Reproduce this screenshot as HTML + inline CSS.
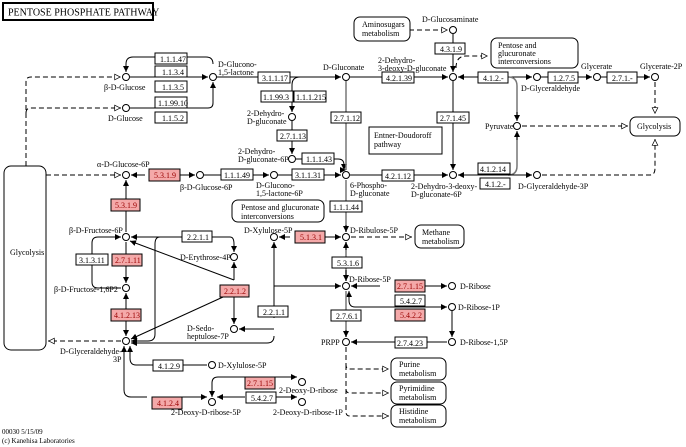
<!DOCTYPE html>
<html><head><meta charset="utf-8"><style>
html,body{margin:0;padding:0;background:#fff}
svg{display:block}
text{font-family:"Liberation Serif",serif;font-size:8px;fill:#000}
.e rect{fill:#fff;stroke:#000;stroke-width:1}
.r rect{fill:#f4a9a9;stroke:#000;stroke-width:1}
.r text{fill:#900}
.c{fill:#fff;stroke:#000;stroke-width:1}
.l{stroke:#000;stroke-width:1;fill:none}
.g{stroke:#777;stroke-width:1.5;fill:none}
.d{stroke:#000;stroke-width:1;fill:none;stroke-dasharray:5,3}
.m{fill:#fff;stroke:#000;stroke-width:1}
</style></head><body>
<svg width="686" height="447" viewBox="0 0 686 447" xmlns="http://www.w3.org/2000/svg">
<defs>
<marker id="a" viewBox="0 0 10 10" refX="10" refY="5" markerWidth="6" markerHeight="6" orient="auto"><path d="M0,0L10,5L0,10z" fill="#000"/></marker>
<marker id="o" viewBox="0 0 10 10" refX="10" refY="5" markerWidth="7" markerHeight="7" orient="auto"><path d="M1,1L9,5L1,9z" fill="#fff" stroke="#000"/></marker>
</defs>
<rect x="3" y="3" width="150" height="17" fill="#fff" stroke="#000" stroke-width="2"/>
<text x="8" y="15.5" style="font-size:10px">PENTOSE PHOSPHATE PATHWAY</text>

<!-- dashed lines -->
<path class="d" d="M26,166V82Q26,77 31,77H121" marker-end="url(#o)"/>
<path class="d" d="M26,113Q26,108 31,108H121" marker-end="url(#o)"/>
<path class="d" d="M46,175H121" marker-end="url(#o)"/>
<path class="d" d="M121,341H48" marker-end="url(#o)"/>
<path class="d" d="M409,30H448" marker-end="url(#o)"/>
<path class="d" d="M456,68Q456,56 466,56H488" marker-end="url(#o)"/>
<path class="d" d="M522,126H628" marker-end="url(#o)"/>
<path class="d" d="M655,82V114" marker-end="url(#o)"/>
<path class="d" d="M542,175H650Q655,175 655,168V139" marker-end="url(#o)"/>
<path class="d" d="M351,237H412" marker-end="url(#o)"/>
<path class="d" d="M346,347V365Q346,369 350,369H389" marker-end="url(#o)"/>
<path class="d" d="M346,365V389Q346,393 350,393H389" marker-end="url(#o)"/>
<path class="d" d="M346,389V412Q346,416 350,416H389" marker-end="url(#o)"/>

<!-- solid lines -->
<path class="l" d="M130,77H208" marker-end="url(#a)"/>
<path class="l" d="M130,108H208Q213,108 213,103V82" marker-end="url(#a)"/>
<path class="l" d="M213,64Q213,57 206,57H133Q126,57 126,64V72" marker-end="url(#a)"/>
<path class="l" d="M217,77H341" marker-end="url(#a)"/>
<path class="l" d="M300,77Q292,77 292,85V112" marker-end="url(#a)"/>
<path class="l" d="M292,121V154" marker-end="url(#a)"/>
<path class="l" d="M296,159H338Q344,159 344,165V170" marker-end="url(#a)"/>
<path class="g" d="M346,81V170"/>
<path class="l" d="M346,170V170" marker-end="url(#a)"/>
<path class="l" d="M350,77H448" marker-end="url(#a)"/>
<path class="l" d="M453,34V72" marker-end="url(#a)"/>
<path class="l" d="M453,81V170" marker-end="url(#a)"/>
<path class="l" d="M350,175H448" marker-end="url(#a)"/>
<path class="l" d="M508,77H458" marker-end="url(#a)"/>
<path class="l" d="M508,77H532" marker-end="url(#a)"/>
<path class="g" d="M508,77Q517,77 517,86V119"/>
<path class="l" d="M517,112V121" marker-end="url(#a)"/>
<path class="g" d="M508,175Q517,175 517,166V134"/>
<path class="l" d="M517,140V131" marker-end="url(#a)"/>
<path class="l" d="M508,175H458" marker-end="url(#a)"/>
<path class="l" d="M508,175H532" marker-end="url(#a)"/>
<path class="l" d="M541,77H592" marker-end="url(#a)"/>
<path class="l" d="M601,77H650" marker-end="url(#a)"/>
<path class="l" d="M145,175H131" marker-end="url(#a)"/>
<path class="l" d="M180,175H195" marker-end="url(#a)"/>
<path class="l" d="M204,175H269" marker-end="url(#a)"/>
<path class="l" d="M278,175H341" marker-end="url(#a)"/>
<path class="l" d="M126,232V180" marker-end="url(#a)"/>
<path class="g" d="M346,180V232"/>
<path class="l" d="M346,225V232" marker-end="url(#a)"/>
<path class="l" d="M290,237H279" marker-end="url(#a)"/>
<path class="l" d="M325,237H341" marker-end="url(#a)"/>
<path class="l" d="M230,237H131" marker-end="url(#a)"/>
<path class="l" d="M230,237Q234,237 234,244V252" marker-end="url(#a)"/>
<path class="l" d="M126,242V283" marker-end="url(#a)"/>
<path class="l" d="M121,288H98Q92,288 92,282V243Q92,237 98,237H121" marker-end="url(#a)"/>
<path class="l" d="M160,237Q155,237 155,244V334Q155,341 148,341H131" marker-end="url(#a)"/>
<path class="l" d="M126,320V293" marker-end="url(#a)"/>
<path class="l" d="M126,320V336" marker-end="url(#a)"/>
<path class="l" d="M234,280V262" marker-end="url(#a)"/>
<path class="l" d="M234,296V324" marker-end="url(#a)"/>
<path class="l" d="M234,280L130,241" marker-end="url(#a)"/>
<path class="l" d="M234,292L131,339" marker-end="url(#a)"/>
<path class="l" d="M274,318V242" marker-end="url(#a)"/>
<path class="l" d="M274,329H239" marker-end="url(#a)"/>
<path class="l" d="M274,336Q274,343 267,343H131" marker-end="url(#a)"/>
<path class="l" d="M274,286Q274,286 280,286H341" marker-end="url(#a)"/>
<path class="g" d="M346,242V281"/>
<path class="l" d="M346,250V242" marker-end="url(#a)"/>
<path class="l" d="M346,270V281" marker-end="url(#a)"/>
<path class="l" d="M380,286H351" marker-end="url(#a)"/>
<path class="l" d="M420,286H447" marker-end="url(#a)"/>
<path class="l" d="M447,307H355Q349,307 349,300V291" marker-end="url(#a)"/>
<path class="l" d="M420,307H447" marker-end="url(#a)"/>
<path class="l" d="M452,311V337" marker-end="url(#a)"/>
<path class="g" d="M346,291V337"/>
<path class="l" d="M346,330V337" marker-end="url(#a)"/>
<path class="l" d="M447,342H351" marker-end="url(#a)"/>
<path class="l" d="M207,365H136Q130,365 130,358V346" marker-end="url(#a)"/>
<path class="l" d="M147,397H131Q124,397 124,390V346" marker-end="url(#a)"/>
<path class="l" d="M167,397H207" marker-end="url(#a)"/>
<path class="l" d="M245,377H218Q212,377 212,383V397" marker-end="url(#a)"/>
<path class="l" d="M262,377H297" marker-end="url(#a)"/>
<path class="l" d="M245,397H217" marker-end="url(#a)"/>
<path class="l" d="M262,397H297" marker-end="url(#a)"/>

<!-- map boxes -->
<rect class="m" x="4" y="166" width="42" height="184" rx="7"/>
<text x="10" y="255">Glycolysis</text>
<rect class="m" x="630" y="117" width="50" height="19" rx="6"/>
<text x="637" y="129">Glycolysis</text>
<rect class="m" x="354" y="17" width="56" height="24" rx="6"/>
<text x="362" y="27">Aminosugars</text><text x="362" y="36">metabolism</text>
<rect class="m" x="491" y="38" width="87" height="30" rx="6"/>
<text x="498" y="48">Pentose and</text><text x="498" y="56">glucuronate</text><text x="498" y="64">interconversions</text>
<rect x="369" y="127" width="73" height="27" fill="#fff" stroke="#000"/>
<text x="374" y="138">Entner-Doudoroff</text><text x="374" y="147">pathway</text>
<rect class="m" x="232" y="200" width="92" height="22" rx="6"/>
<text x="241" y="210">Pentose and glucuronate</text><text x="241" y="219">interconversions</text>
<rect class="m" x="415" y="225" width="49" height="23" rx="6"/>
<text x="422" y="235">Methane</text><text x="422" y="244">metabolism</text>
<rect class="m" x="391" y="358" width="55" height="22" rx="6"/>
<text x="399" y="367">Purine</text><text x="399" y="376">metabolism</text>
<rect class="m" x="391" y="382" width="55" height="22" rx="6"/>
<text x="399" y="391">Pyrimidine</text><text x="399" y="400">metabolism</text>
<rect class="m" x="391" y="405" width="55" height="22" rx="6"/>
<text x="399" y="414">Histidine</text><text x="399" y="423">metabolism</text>

<!-- enzymes -->
<g class="e">
<rect x="155" y="53" width="32" height="11"/><text x="160" y="62">1.1.1.47</text>
<rect x="155" y="66" width="32" height="11"/><text x="162" y="75">1.1.3.4</text>
<rect x="155" y="81" width="32" height="11"/><text x="162" y="90">1.1.3.5</text>
<rect x="155" y="97" width="32" height="11"/><text x="158" y="106">1.1.99.10</text>
<rect x="155" y="112" width="32" height="11"/><text x="162" y="121">1.1.5.2</text>
<rect x="258" y="72" width="32" height="11"/><text x="262" y="81">3.1.1.17</text>
<rect x="261" y="91" width="32" height="11"/><text x="263" y="100">1.1.99.3</text>
<rect x="294" y="91" width="32" height="11"/><text x="296" y="100">1.1.1.215</text>
<rect x="277" y="130" width="30" height="11"/><text x="280" y="139">2.7.1.13</text>
<rect x="302" y="153" width="32" height="11"/><text x="306" y="162">1.1.1.43</text>
<rect x="331" y="112" width="30" height="11"/><text x="334" y="121">2.7.1.12</text>
<rect x="382" y="72" width="32" height="11"/><text x="386" y="81">4.2.1.39</text>
<rect x="435" y="43" width="30" height="11"/><text x="440" y="52">4.3.1.9</text>
<rect x="437" y="112" width="32" height="11"/><text x="440" y="121">2.7.1.45</text>
<rect x="478" y="72" width="30" height="11"/><text x="483" y="81">4.1.2.-</text>
<rect x="548" y="72" width="30" height="11"/><text x="553" y="81">1.2.7.5</text>
<rect x="607" y="72" width="30" height="11"/><text x="612" y="81">2.7.1.-</text>
<rect x="478" y="163" width="32" height="11"/><text x="480" y="172">4.1.2.14</text>
<rect x="480" y="178" width="30" height="11"/><text x="485" y="187">4.1.2.-</text>
<rect x="382" y="170" width="32" height="11"/><text x="385" y="179">4.2.1.12</text>
<rect x="330" y="201" width="32" height="11"/><text x="333" y="210">1.1.1.44</text>
<rect x="221" y="169" width="32" height="11"/><text x="224" y="178">1.1.1.49</text>
<rect x="292" y="169" width="32" height="11"/><text x="295" y="178">3.1.1.31</text>
<rect x="182" y="231" width="30" height="11"/><text x="187" y="240">2.2.1.1</text>
<rect x="76" y="254" width="32" height="11"/><text x="79" y="263">3.1.3.11</text>
<rect x="258" y="306" width="30" height="11"/><text x="263" y="315">2.2.1.1</text>
<rect x="332" y="257" width="30" height="11"/><text x="337" y="266">5.3.1.6</text>
<rect x="395" y="295" width="30" height="11"/><text x="400" y="304">5.4.2.7</text>
<rect x="331" y="310" width="30" height="11"/><text x="336" y="319">2.7.6.1</text>
<rect x="395" y="337" width="32" height="11"/><text x="397" y="346">2.7.4.23</text>
<rect x="153" y="360" width="30" height="11"/><text x="158" y="369">4.1.2.9</text>
<rect x="246" y="392" width="30" height="11"/><text x="251" y="401">5.4.2.7</text>
</g>
<g class="r">
<rect x="149" y="169" width="31" height="12"/><text x="154" y="178">5.3.1.9</text>
<rect x="111" y="199" width="29" height="12"/><text x="115" y="208">5.3.1.9</text>
<rect x="295" y="231" width="30" height="12"/><text x="300" y="240">5.1.3.1</text>
<rect x="112" y="254" width="30" height="12"/><text x="115" y="263">2.7.1.11</text>
<rect x="220" y="285" width="29" height="12"/><text x="224" y="294">2.2.1.2</text>
<rect x="111" y="309" width="30" height="12"/><text x="114" y="318">4.1.2.13</text>
<rect x="395" y="280" width="30" height="12"/><text x="397" y="289">2.7.1.15</text>
<rect x="395" y="309" width="30" height="12"/><text x="400" y="318">5.4.2.2</text>
<rect x="245" y="377" width="30" height="12"/><text x="247" y="386">2.7.1.15</text>
<rect x="152" y="397" width="30" height="12"/><text x="157" y="406">4.1.2.4</text>
</g>

<!-- compounds -->
<g>
<circle class="c" cx="126" cy="77" r="3.5"/><circle class="c" cx="126" cy="108" r="3.5"/>
<circle class="c" cx="213" cy="77" r="3.5"/><circle class="c" cx="346" cy="77" r="3.5"/>
<circle class="c" cx="292" cy="117" r="3.5"/><circle class="c" cx="292" cy="159" r="3.5"/>
<circle class="c" cx="346" cy="175" r="3.5"/><circle class="c" cx="453" cy="77" r="3.5"/>
<circle class="c" cx="453" cy="30" r="3.5"/><circle class="c" cx="453" cy="175" r="3.5"/>
<circle class="c" cx="537" cy="77" r="3.5"/><circle class="c" cx="597" cy="77" r="3.5"/>
<circle class="c" cx="655" cy="77" r="3.5"/><circle class="c" cx="517" cy="126" r="3.5"/>
<circle class="c" cx="537" cy="175" r="3.5"/><circle class="c" cx="126" cy="175" r="3.5"/>
<circle class="c" cx="200" cy="175" r="3.5"/><circle class="c" cx="274" cy="175" r="3.5"/>
<circle class="c" cx="126" cy="237" r="3.5"/><circle class="c" cx="126" cy="288" r="3.5"/>
<circle class="c" cx="126" cy="341" r="3.5"/><circle class="c" cx="274" cy="237" r="3.5"/>
<circle class="c" cx="346" cy="237" r="3.5"/><circle class="c" cx="234" cy="257" r="3.5"/>
<circle class="c" cx="234" cy="329" r="3.5"/><circle class="c" cx="346" cy="286" r="3.5"/>
<circle class="c" cx="452" cy="286" r="3.5"/><circle class="c" cx="452" cy="307" r="3.5"/>
<circle class="c" cx="452" cy="342" r="3.5"/><circle class="c" cx="346" cy="342" r="3.5"/>
<circle class="c" cx="212" cy="365" r="3.5"/><circle class="c" cx="302" cy="382" r="3.5"/>
<circle class="c" cx="212" cy="402" r="3.5"/><circle class="c" cx="302" cy="402" r="3.5"/>
</g>

<!-- compound labels -->
<text x="104" y="90">β-D-Glucose</text>
<text x="108" y="121">D-Glucose</text>
<text x="218" y="67">D-Glucono-</text><text x="218" y="75">1,5-lactone</text>
<text x="323" y="70">D-Gluconate</text>
<text x="247" y="116">2-Dehydro-</text><text x="247" y="124">D-gluconate</text>
<text x="238" y="154">2-Dehydro-</text><text x="238" y="162">D-gluconate-6P</text>
<text x="350" y="188">6-Phospho-</text><text x="350" y="196">D-gluconate</text>
<text x="378" y="63">2-Dehydro-</text><text x="378" y="71">3-deoxy-D-gluconate</text>
<text x="422" y="22">D-Glucosaminate</text>
<text x="411" y="189">2-Dehydro-3-deoxy-</text><text x="411" y="197">D-gluconate-6P</text>
<text x="521" y="91">D-Glyceraldehyde</text>
<text x="581" y="69">Glycerate</text>
<text x="640" y="69">Glycerate-2P</text>
<text x="485" y="129">Pyruvate</text>
<text x="518" y="189">D-Glyceraldehyde-3P</text>
<text x="97" y="167">α-D-Glucose-6P</text>
<text x="180" y="190">β-D-Glucose-6P</text>
<text x="256" y="188">D-Glucono-</text><text x="256" y="196">1,5-lactone-6P</text>
<text x="69" y="233">β-D-Fructose-6P</text>
<text x="54" y="292">β-D-Fructose-1,6P2</text>
<text x="60" y="354">D-Glyceraldehyde-</text><text x="113" y="362">3P</text>
<text x="244" y="233">D-Xylulose-5P</text>
<text x="350" y="233">D-Ribulose-5P</text>
<text x="180" y="260">D-Erythrose-4P</text>
<text x="187" y="331">D-Sedo-</text><text x="187" y="339">heptulose-7P</text>
<text x="349" y="282">D-Ribose-5P</text>
<text x="460" y="289">D-Ribose</text>
<text x="458" y="310">D-Ribose-1P</text>
<text x="460" y="345">D-Ribose-1,5P</text>
<text x="321" y="345">PRPP</text>
<text x="218" y="368">D-Xylulose-5P</text>
<text x="279" y="393">2-Deoxy-D-ribose</text>
<text x="171" y="415">2-Deoxy-D-ribose-5P</text>
<text x="273" y="415">2-Deoxy-D-ribose-1P</text>
<text x="2" y="434" style="font-size:7px">00030   5/15/09</text>
<text x="2" y="443" style="font-size:7px">(c) Kanehisa Laboratories</text>
</svg>
</body></html>
